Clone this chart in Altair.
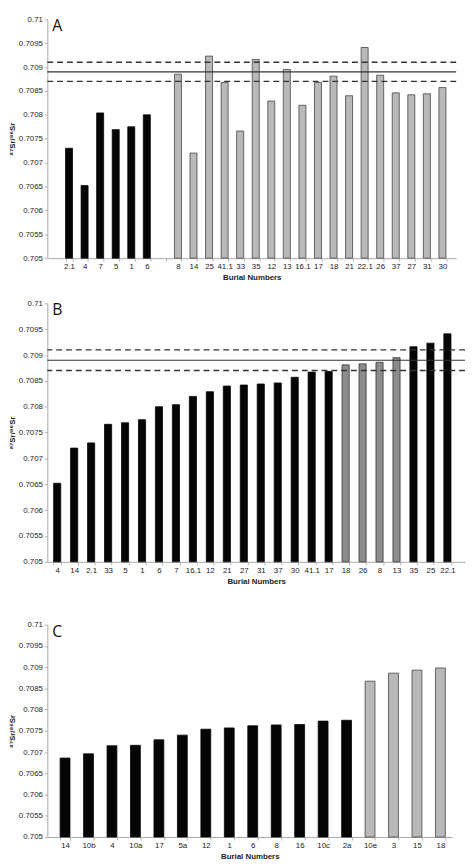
import altair as alt
import pandas as pd

# ---------------- data ----------------
y_ticks = [0.705, 0.7055, 0.706, 0.7065, 0.707, 0.7075, 0.708, 0.7085, 0.709, 0.7095, 0.71]
ref_mean = [0.7089]
ref_bounds = [0.7087, 0.7091]

a_labels = ["2.1", "4", "7", "5", "1", "6", "8", "14", "25", "41.1", "33", "35", "12",
            "13", "16.1", "17", "18", "21", "22.1", "26", "37", "27", "31", "30"]
a_values = [0.7073, 0.70652, 0.70804, 0.70769, 0.70775, 0.70800, 0.70885, 0.70720,
            0.70923, 0.70868, 0.70766, 0.70916, 0.70829, 0.70895, 0.70820, 0.70868,
            0.70881, 0.70840, 0.70941, 0.70883, 0.70846, 0.70842, 0.70844, 0.70857]
a_groups = ["dark", "dark", "dark", "dark", "dark", "dark",
            "light", "light", "light", "light", "light", "light", "light", "light", "light",
            "light", "light", "light", "light", "light", "light", "light", "light", "light"]
a_domain = ["2.1", "4", "7", "5", "1", "6", " ", "8", "14", "25", "41.1", "33", "35", "12",
            "13", "16.1", "17", "18", "21", "22.1", "26", "37", "27", "31", "30"]

b_labels = ["4", "14", "2.1", "33", "5", "1", "6", "7", "16.1", "12", "21", "27", "31",
            "37", "30", "41.1", "17", "18", "26", "8", "13", "35", "25", "22.1"]
b_values = [0.70652, 0.70720, 0.7073, 0.70766, 0.70769, 0.70775, 0.70800, 0.70804,
            0.70820, 0.70829, 0.70840, 0.70842, 0.70844, 0.70846, 0.70857, 0.70867,
            0.70868, 0.70881, 0.70883, 0.70886, 0.70895, 0.70916, 0.70923, 0.70941]
b_groups = ["dark"] * 17 + ["mid", "mid", "mid", "mid"] + ["dark", "dark", "dark"]

c_labels = ["14", "10b", "4", "10a", "17", "5a", "12", "1", "6", "8", "16", "10c", "2a",
            "10e", "3", "15", "18"]
c_values = [0.70686, 0.70696, 0.70715, 0.70716, 0.70729, 0.70740, 0.70754, 0.70757,
            0.70762, 0.70764, 0.70765, 0.70773, 0.70775, 0.70867, 0.70886, 0.70893, 0.70898]
c_groups = ["dark"] * 13 + ["light"] * 4

FONT = "Liberation Sans"
group_dom = ["dark", "mid", "light"]
fill_rng = ["#050505", "#8c8c8c", "#b9b9b9"]
stroke_rng = ["#050505", "#333333", "#444444"]
baseline = y_ticks[0]


def panel(labels, values, groups, domain, letter, width, height, pi, po, align, rules):
    df = pd.DataFrame({"label": labels, "value": values, "group": groups})
    x = alt.X("label:N", sort=domain,
              scale=alt.Scale(domain=domain, paddingInner=pi, paddingOuter=po, align=align),
              axis=alt.Axis(title="Burial Numbers", labelAngle=0, tickBand="extent",
                            labelPadding=2, titlePadding=3, labelColor="#222222"))
    yenc = alt.Y("value:Q",
                 scale=alt.Scale(domain=[y_ticks[0], y_ticks[-1]], nice=False, zero=False),
                 axis=alt.Axis(values=y_ticks, format=".4~f", title="⁸⁷Sr/⁸⁶Sr",
                               grid=False, titlePadding=2, labelPadding=2))
    bars = alt.Chart(df).mark_bar(strokeWidth=0.8).encode(
        x=x, y=yenc, y2=alt.datum(baseline),
        fill=alt.Fill("group:N", scale=alt.Scale(domain=group_dom, range=fill_rng), legend=None),
        stroke=alt.Stroke("group:N", scale=alt.Scale(domain=group_dom, range=stroke_rng), legend=None),
    )
    layers = [bars]
    if rules:
        mean_df = pd.DataFrame({"value": ref_mean})
        bnd_df = pd.DataFrame({"value": ref_bounds})
        layers.append(alt.Chart(mean_df).mark_rule(color="#333333", strokeWidth=1.1).encode(y=yenc))
        layers.append(alt.Chart(bnd_df).mark_rule(color="#333333", strokeWidth=1.4,
                                                  strokeDash=[6, 4]).encode(y=yenc))
    txt = alt.Chart(pd.DataFrame({"t": [letter]})).mark_text(
        align="left", baseline="top", fontSize=16, font="Open Sans", color="#111111"
    ).encode(text="t:N", x=alt.value(5), y=alt.value(-1))
    layers.append(txt)
    return alt.layer(*layers).properties(width=width, height=height)


pa = panel(a_labels, a_values, a_groups, a_domain, "A", 416, 243, 0.55, 0.915, 0.64, True)
pb = panel(b_labels, b_values, b_groups, b_labels, "B", 425, 263, 0.58, 0.6, 0.31, True)
pc = panel(c_labels, c_values, c_groups, c_labels, "C", 412, 216, 0.58, 0.42, 0.65, False).properties(
    title=alt.Title(" ", fontSize=14, offset=4))

chart = alt.vconcat(pa, pb, pc, spacing=18).properties(
    padding={"left": 0, "top": 0, "right": 0, "bottom": 0}
).resolve_scale(x="independent", y="independent", fill="independent", stroke="independent"
).configure_view(stroke=None).configure_axis(
    labelFont=FONT, titleFont=FONT, labelFontSize=8, titleFontSize=8, titleFontWeight="bold",
    labelColor="#222222", titleColor="#222222", domainColor="#a8a8a8", tickColor="#b0b0b0",
    tickSize=3
)

chart.save("out.html", embed_options={"renderer": "svg", "actions": False})
